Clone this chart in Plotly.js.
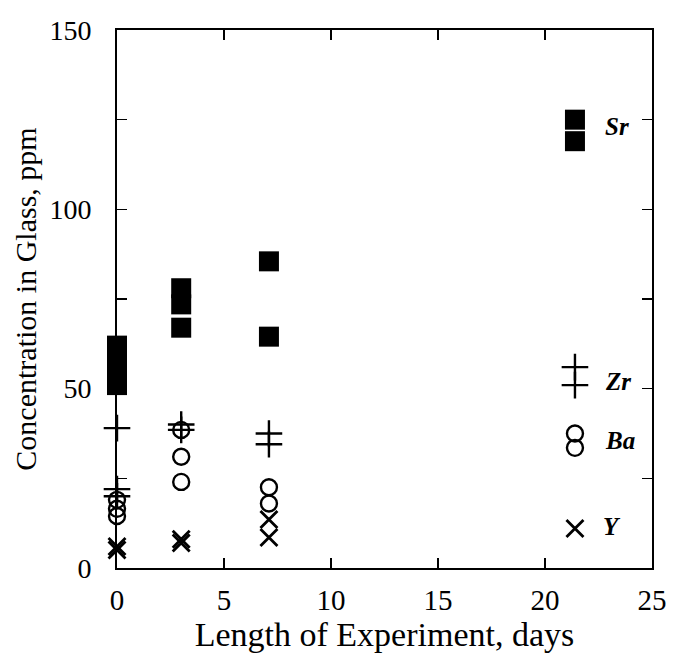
<!DOCTYPE html>
<html>
<head>
<meta charset="utf-8">
<script src="https://cdn.plot.ly/plotly-3.0.1.min.js"></script>
<style>html,body{margin:0;padding:0;background:#fff;}#chart{width:676px;height:660px;}</style>
</head>
<body>
<div id="chart"></div>
<script>
// Sr (filled squares)
const srDays = [0, 0, 0, 0, 3, 3, 3, 7.1, 7.1, 21.4, 21.4];
const srPpm  = [62, 58, 54, 51, 78, 73.5, 67, 85.5, 64.5, 125, 119];
// Zr (double cross)
const zrDays = [0, 0, 0, 3, 3, 7.1, 7.1, 21.4, 21.4];
const zrPpm  = [39, 22, 20, 40, 38.5, 37.5, 34.5, 56, 51];
// Ba (open circles)
const baDays = [0, 0, 0, 3, 3, 3, 7.1, 7.1, 21.4, 21.4];
const baPpm  = [19, 16.5, 14.5, 38.5, 31, 24, 22.5, 18, 37.5, 33.5];
// Y (crosses)
const yDays = [0, 0, 3, 3, 7.1, 7.1, 21.4];
const yPpm  = [6, 5, 8, 7, 13.5, 8.5, 11];
// labels
const labelText = ['Sr', 'Zr', 'Ba', 'Y'];
const labelX = [22.7, 22.7, 22.7, 22.6];
const labelY = [123, 52, 35.5, 11.5];
const xTicks = [0, 5, 10, 15, 20, 25];
const yTicks = [0, 25, 50, 75, 100, 125, 150];
const yTickText = ['0', '', '50', '', '100', '', '150'];

const traces = [
  {x: srDays, y: srPpm, mode: 'markers', type: 'scatter', cliponaxis: false,
   marker: {symbol: 'square', size: 20, color: '#000', line: {width: 0}}},
  {x: zrDays, y: zrPpm, mode: 'markers', type: 'scatter', cliponaxis: false,
   marker: {symbol: 'cross-thin-open', size: 19, color: '#000', line: {width: 2.4, color: '#000'}}},
  {x: baDays, y: baPpm, mode: 'markers', type: 'scatter', cliponaxis: false,
   marker: {symbol: 'circle-open', size: 16, color: '#000', line: {width: 2.4, color: '#000'}}},
  {x: yDays, y: yPpm, mode: 'markers', type: 'scatter', cliponaxis: false,
   marker: {symbol: 'x-thin-open', size: 17, color: '#000', line: {width: 2.8, color: '#000'}}}
];

const font = {family: 'Liberation Serif, Times New Roman, serif', color: '#000'};
const layout = {
  width: 676, height: 660,
  margin: {l: 117, r: 24, t: 30, b: 92},
  showlegend: false,
  paper_bgcolor: '#fff', plot_bgcolor: '#fff',
  font: Object.assign({size: 22}, font),
  xaxis: {
    range: [0, 25], tickmode: 'array', tickvals: xTicks, ticktext: xTicks.map(String),
    showline: true, linecolor: '#000', linewidth: 2, mirror: 'allticks',
    ticks: 'inside', ticklen: 10, tickwidth: 1.5, tickcolor: '#000',
    showgrid: false, zeroline: false, ticklabelstandoff: 5,
    tickfont: Object.assign({size: 29}, font),
    title: {text: 'Length of Experiment, days', font: Object.assign({size: 34}, font), standoff: 0}
  },
  yaxis: {
    range: [0, 150], tickmode: 'array', tickvals: yTicks, ticktext: yTickText,
    showline: true, linecolor: '#000', linewidth: 2, mirror: 'allticks',
    ticks: 'inside', ticklen: 10, tickwidth: 1.5, tickcolor: '#000',
    showgrid: false, zeroline: false, ticklabelstandoff: 18,
    tickfont: Object.assign({size: 28}, font),
    title: {text: 'Concentration in Glass, ppm', font: Object.assign({size: 30}, font), standoff: 4}
  },
  annotations: labelText.map((t, i) => ({
    x: labelX[i], y: labelY[i], xref: 'x', yref: 'y', text: '<b><i>' + t + '</i></b>',
    showarrow: false, xanchor: 'left', yanchor: 'middle',
    font: Object.assign({size: 25}, font)
  }))
};

Plotly.newPlot('chart', traces, layout, {displayModeBar: false, staticPlot: true});
</script>
</body>
</html>
